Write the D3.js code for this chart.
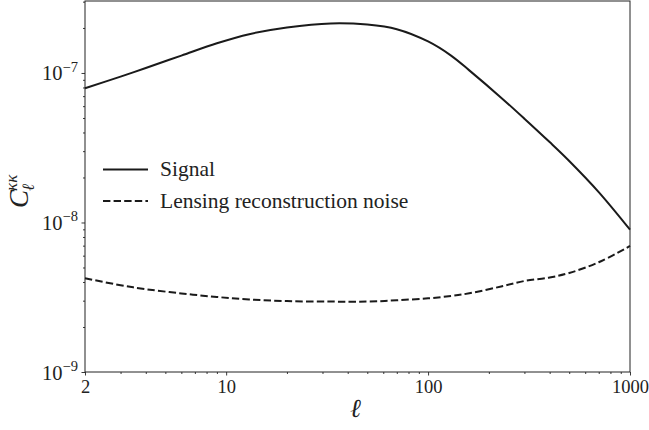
<!DOCTYPE html>
<html>
<head>
<meta charset="utf-8">
<script src="https://cdn.jsdelivr.net/npm/d3@7"></script>
<style>
  html, body { margin: 0; padding: 0; background: #fff; }
  svg { display: block; }
  text { font-family: "Liberation Serif", "DejaVu Serif", serif; fill: #222; }
</style>
</head>
<body>
<svg id="chart" width="649" height="430"></svg>
<script>
// Multipole values where the spectra are sampled
const ell = [2, 3, 4, 6, 9, 13, 20, 33, 50, 70, 100, 130, 160, 230, 300, 400, 500, 700, 1000];

// Lensing convergence power spectrum C_ell^{kk}
const signal = [7.90e-8, 9.46e-8, 1.080e-7, 1.307e-7, 1.580e-7, 1.818e-7, 2.015e-7, 2.146e-7,
                2.107e-7, 1.963e-7, 1.625e-7, 1.307e-7, 1.041e-7, 6.84e-8, 4.946e-8, 3.449e-8,
                2.579e-8, 1.597e-8, 8.95e-9];

// Reconstruction noise level N_ell^{kk}
const noise = [4.234e-9, 3.807e-9, 3.58e-9, 3.356e-9, 3.175e-9, 3.059e-9, 2.98e-9, 2.958e-9,
               2.958e-9, 3.018e-9, 3.11e-9, 3.224e-9, 3.36e-9, 3.732e-9, 4.061e-9, 4.287e-9,
               4.595e-9, 5.418e-9, 6.963e-9];

const xTickValues = [2, 10, 100, 1000];
const xTickLabels = ["2", "10", "100", "1000"];
const yTickExponents = [-9, -8, -7];

const seriesNames = ["Signal", "Lensing reconstruction noise"];

const svg = d3.select("#chart");
const margin = { left: 85, top: 1, right: 19, bottom: 58 };
const W = 649 - margin.left - margin.right;
const H = 430 - margin.top - margin.bottom;

const x = d3.scaleLog().domain([2, 1000]).range([0, W]);
const y = d3.scaleLog().domain([1e-9, 3.03e-7]).range([H, 0]);

const g = svg.append("g").attr("transform", `translate(${margin.left},${margin.top})`);

// minor tick positions
const xMinor = [];
for (let d = 1; d <= 100; d *= 10)
  for (let k = 2; k <= 9; k++) {
    const v = k * d;
    if (v > 2 && v < 1000 && !xTickValues.includes(v)) xMinor.push(v);
  }
const yMinor = [];
for (let e = -9; e <= -7; e++)
  for (let k = 2; k <= 9; k++) {
    const v = k * Math.pow(10, e);
    if (v < 3.03e-7) yMinor.push(v);
  }

// x axis
const xAxis = g.append("g").attr("transform", `translate(0,${H})`);
xAxis.call(d3.axisBottom(x).tickValues(xTickValues).tickSize(3.5).tickPadding(4)
  .tickFormat((d, i) => xTickLabels[i]));
xAxis.append("g").call(d3.axisBottom(x).tickValues(xMinor).tickSize(2).tickFormat(""));
xAxis.selectAll("path.domain").remove();
xAxis.selectAll("line").attr("stroke", "#222").attr("stroke-width", 0.9);
xAxis.selectAll("text").attr("font-size", 18.5).attr("fill", "#222")
  .attr("font-family", "'Liberation Serif', serif");

// y axis
const yAxis = g.append("g");
yAxis.call(d3.axisLeft(y).tickValues(yTickExponents.map(e => Math.pow(10, e))).tickSize(3.5).tickFormat(""));
yAxis.append("g").call(d3.axisLeft(y).tickValues(yMinor).tickSize(2).tickFormat(""));
yAxis.selectAll("path.domain").remove();
yAxis.selectAll("line").attr("stroke", "#222").attr("stroke-width", 0.9);

// y tick labels as 10^n
yTickExponents.forEach(e => {
  const t = g.append("text")
    .attr("x", -7)
    .attr("y", y(Math.pow(10, e)) + 7.5)
    .attr("text-anchor", "end")
    .attr("font-size", 20.5);
  t.append("tspan").text("10");
  t.append("tspan").attr("dy", -8.5).attr("font-size", 14.5).text("\u2212" + Math.abs(e));
});

// frame
g.append("rect").attr("x", 0).attr("y", 0).attr("width", W).attr("height", H)
  .attr("fill", "none").attr("stroke", "#222").attr("stroke-width", 1);

// lines, interpolated smoothly in log-log space
const line = d3.line()
  .x((d, i) => x(ell[i]))
  .y(d => y(d))
  .curve(d3.curveCatmullRom.alpha(0.5));

g.append("path").datum(signal)
  .attr("d", line).attr("fill", "none")
  .attr("stroke", "#1a1a1a").attr("stroke-width", 2);

g.append("path").datum(noise)
  .attr("d", line).attr("fill", "none")
  .attr("stroke", "#1a1a1a").attr("stroke-width", 2)
  .attr("stroke-dasharray", "7.4,3.2");

// legend
const legend = svg.append("g");
const dashes = [null, "7.4,3.2"];
seriesNames.forEach((name, i) => {
  const ly = 169.5 + i * 31.5;
  legend.append("line").attr("x1", 103).attr("x2", 148).attr("y1", ly).attr("y2", ly)
    .attr("stroke", "#1a1a1a").attr("stroke-width", 2)
    .attr("stroke-dasharray", dashes[i]);
  legend.append("text").attr("x", 160).attr("y", ly + 6.5)
    .attr("font-size", 21.5).text(name);
});

// axis titles
svg.append("text")
  .attr("x", margin.left + x(Math.sqrt(2 * 1000)) - 2)
  .attr("y", 417)
  .attr("font-size", 26).attr("font-style", "italic")
  .attr("text-anchor", "middle")
  .text("\u2113");

const yl = svg.append("text")
  .attr("transform", "translate(28,208) rotate(-90)")
  .attr("font-size", 27).attr("font-style", "italic");
yl.append("tspan").text("C");
yl.append("tspan").attr("dy", 6).attr("dx", -1).attr("font-size", 17).text("\u2113");
yl.append("tspan").attr("dy", -17).attr("dx", -7).attr("font-size", 17).text("\u03BA\u03BA");
</script>
</body>
</html>
